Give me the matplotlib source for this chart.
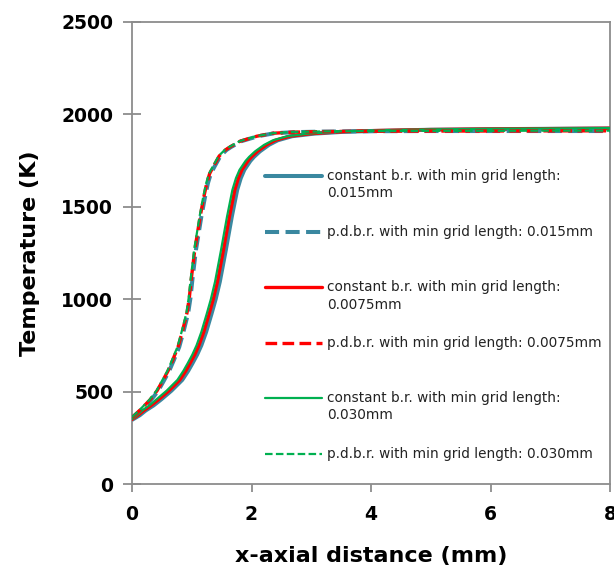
#!/usr/bin/env python3
"""
Perfil de temperatura a lo largo del eje x: b.r. constante vs p.d.b.r.
"""

import matplotlib
matplotlib.use("Agg")
import matplotlib.pyplot as plt
from matplotlib.transforms import offset_copy

# --- datos ---
# constant b.r. (curvas solidas)
x_cbr_0075 = [0, 0.1, 0.2, 0.32, 0.45, 0.62, 0.80, 0.90, 0.97, 1.05, 1.12, 1.20, 1.29,
              1.36, 1.43, 1.53, 1.63, 1.72, 1.78, 1.84, 1.94, 2.0, 2.1, 2.25, 2.4,
              2.64, 3.0, 3.5, 4.0, 5.0, 6.0, 7.0, 8.0]
T_cbr_0075 = [350, 372, 398, 425, 458, 505, 563, 612, 652, 700, 750, 822, 920,
              1000, 1095, 1266, 1446, 1591, 1655, 1700, 1748, 1770, 1800, 1835, 1860,
              1882, 1896, 1906, 1912, 1918, 1921, 1923, 1925]

x_cbr_015 = [0, 0.13, 0.23, 0.36, 0.49, 0.66, 0.84, 0.94, 1.01, 1.09, 1.16, 1.24, 1.33,
             1.40, 1.47, 1.57, 1.67, 1.76, 1.82, 1.88, 1.98, 2.04, 2.14, 2.29, 2.44,
             2.68, 3.05, 3.55, 4.0, 5.0, 6.0, 7.0, 8.0]
T_cbr_015 = [347, 372, 398, 425, 458, 505, 563, 612, 652, 700, 750, 822, 920,
             1000, 1095, 1266, 1446, 1591, 1655, 1700, 1748, 1770, 1800, 1835, 1860,
             1882, 1896, 1906, 1910, 1917, 1920, 1922, 1924]

x_cbr_030 = [0, 0.08, 0.17, 0.29, 0.41, 0.58, 0.76, 0.86, 0.93, 1.01, 1.08, 1.16, 1.25,
             1.32, 1.39, 1.49, 1.59, 1.68, 1.74, 1.80, 1.90, 1.96, 2.06, 2.21, 2.36,
             2.60, 2.96, 3.45, 4.0, 5.0, 6.0, 7.0, 8.0]
T_cbr_030 = [352, 372, 398, 425, 458, 505, 563, 612, 652, 700, 750, 822, 920,
             1000, 1095, 1266, 1446, 1591, 1655, 1700, 1748, 1770, 1800, 1835, 1860,
             1882, 1896, 1907, 1913, 1919, 1922, 1924, 1926]

# p.d.b.r. (curvas discontinuas)
x_pdbr_0075 = [0, 0.15, 0.30, 0.42, 0.52, 0.60, 0.68, 0.77, 0.85, 0.92, 0.96, 0.99, 1.05,
               1.14, 1.20, 1.25, 1.30, 1.36, 1.46, 1.56, 1.64, 1.81, 2.09, 2.36, 2.7,
               3.2, 4.0, 5.0, 6.0, 7.0, 8.0]
T_pdbr_0075 = [360, 405, 455, 505, 563, 610, 670, 741, 835, 925, 1010, 1104, 1266,
               1446, 1550, 1627, 1680, 1717, 1775, 1807, 1824, 1855, 1882, 1898, 1904,
               1907, 1909, 1910, 1910, 1911, 1911]

x_pdbr_015 = [0, 0.17, 0.32, 0.44, 0.54, 0.62, 0.70, 0.79, 0.87, 0.94, 0.98, 1.01, 1.07,
              1.16, 1.22, 1.27, 1.32, 1.38, 1.48, 1.58, 1.66, 1.83, 2.11, 2.38, 2.72,
              3.2, 4.0, 5.0, 6.0, 7.0, 8.0]
T_pdbr_015 = [358, 405, 455, 505, 563, 610, 670, 741, 835, 925, 1010, 1104, 1266,
              1446, 1550, 1627, 1680, 1717, 1775, 1807, 1824, 1855, 1882, 1898, 1904,
              1907, 1909, 1910, 1910, 1910, 1910]

x_pdbr_030 = [0, 0.14, 0.29, 0.41, 0.51, 0.59, 0.67, 0.76, 0.84, 0.91, 0.95, 0.98, 1.04,
              1.13, 1.19, 1.24, 1.29, 1.35, 1.45, 1.55, 1.63, 1.80, 2.08, 2.35, 2.69,
              3.2, 4.0, 5.0, 6.0, 7.0, 8.0]
T_pdbr_030 = [362, 405, 455, 505, 563, 610, 670, 741, 835, 925, 1010, 1104, 1266,
              1446, 1550, 1627, 1680, 1717, 1775, 1807, 1824, 1855, 1882, 1898, 1905,
              1908, 1910, 1911, 1911, 1912, 1912]

etiquetas = [
    "constant b.r. with min grid length:\n0.015mm",
    "p.d.b.r. with min grid length: 0.015mm",
    "constant b.r. with min grid length:\n0.0075mm",
    "p.d.b.r. with min grid length: 0.0075mm",
    "constant b.r. with min grid length:\n0.030mm",
    "p.d.b.r. with min grid length: 0.030mm",
]

azul = "#3A88A0"
rojo = "#FF0000"
verde = "#00B050"

series = [
    (x_cbr_015, T_cbr_015, azul, 2.9, None),
    (x_pdbr_015, T_pdbr_015, azul, 2.9, (3.5, 1.6)),
    (x_cbr_0075, T_cbr_0075, rojo, 2.4, None),
    (x_pdbr_0075, T_pdbr_0075, rojo, 2.4, (3.5, 1.6)),
    (x_cbr_030, T_cbr_030, verde, 1.6, None),
    (x_pdbr_030, T_pdbr_030, verde, 1.6, (3.4, 1.5)),
]

fig = plt.figure(figsize=(6.14, 5.74), dpi=100)
ax = fig.add_axes([132 / 614, 1 - 484 / 574, 478 / 614, 462 / 574])

gris = "#8C8C8C"

# orden de dibujo: azul debajo, verde encima
orden = [0, 2, 4, 1, 3, 5]
for i in orden:
    x, T, color, lw, dashes = series[i]
    if dashes is None:
        ax.plot(x, T, color=color, linewidth=lw, solid_capstyle="round",
                solid_joinstyle="round", zorder=2 + i)
    else:
        ax.plot(x, T, color=color, linewidth=lw, dashes=dashes, zorder=3 + i)

ax.set_xlim(0, 8)
ax.set_ylim(0, 2500)
ax.set_xticks([0, 2, 4, 6, 8])
ax.set_yticks([0, 500, 1000, 1500, 2000, 2500])

for sp in ax.spines.values():
    sp.set_color(gris)
    sp.set_linewidth(1.3)

ax.tick_params(axis="y", direction="inout", length=13, width=1.3, color=gris, pad=7,
               labelsize=13.5)
ax.tick_params(axis="x", direction="out", length=6, width=1.3, color=gris, pad=9,
               labelsize=13.5)
for lab in ax.get_xticklabels() + ax.get_yticklabels():
    lab.set_fontweight("bold")

ax.set_xlabel("x-axial distance (mm)", fontsize=16, fontweight="bold", labelpad=16)
ax.set_ylabel("Temperature (K)", fontsize=16, fontweight="bold", labelpad=15)

# leyenda dibujada a mano (primera linea alineada con la muestra)
y_muestras = [0.667, 0.546, 0.426, 0.306, 0.187, 0.065]
for (x, T, color, lw, dashes), etiqueta, yl in zip(series, etiquetas, y_muestras):
    kw = dict(color=color, linewidth=lw, transform=ax.transAxes, clip_on=False, zorder=10)
    if dashes is None:
        ax.plot([0.278, 0.397], [yl, yl], solid_capstyle="round", **kw)
    else:
        ax.plot([0.278, 0.397], [yl, yl], dashes=dashes, **kw)
    for j, linea in enumerate(etiqueta.split("\n")):
        tr = offset_copy(ax.transAxes, fig=fig, y=-j * 17.5, units="dots")
        ax.text(0.408, yl, linea, transform=tr, fontsize=9.8, va="center", ha="left",
                family="DejaVu Sans", color="#222222", zorder=10)

fig.savefig("out.png", dpi=100)
print("Guardado: out.png")
